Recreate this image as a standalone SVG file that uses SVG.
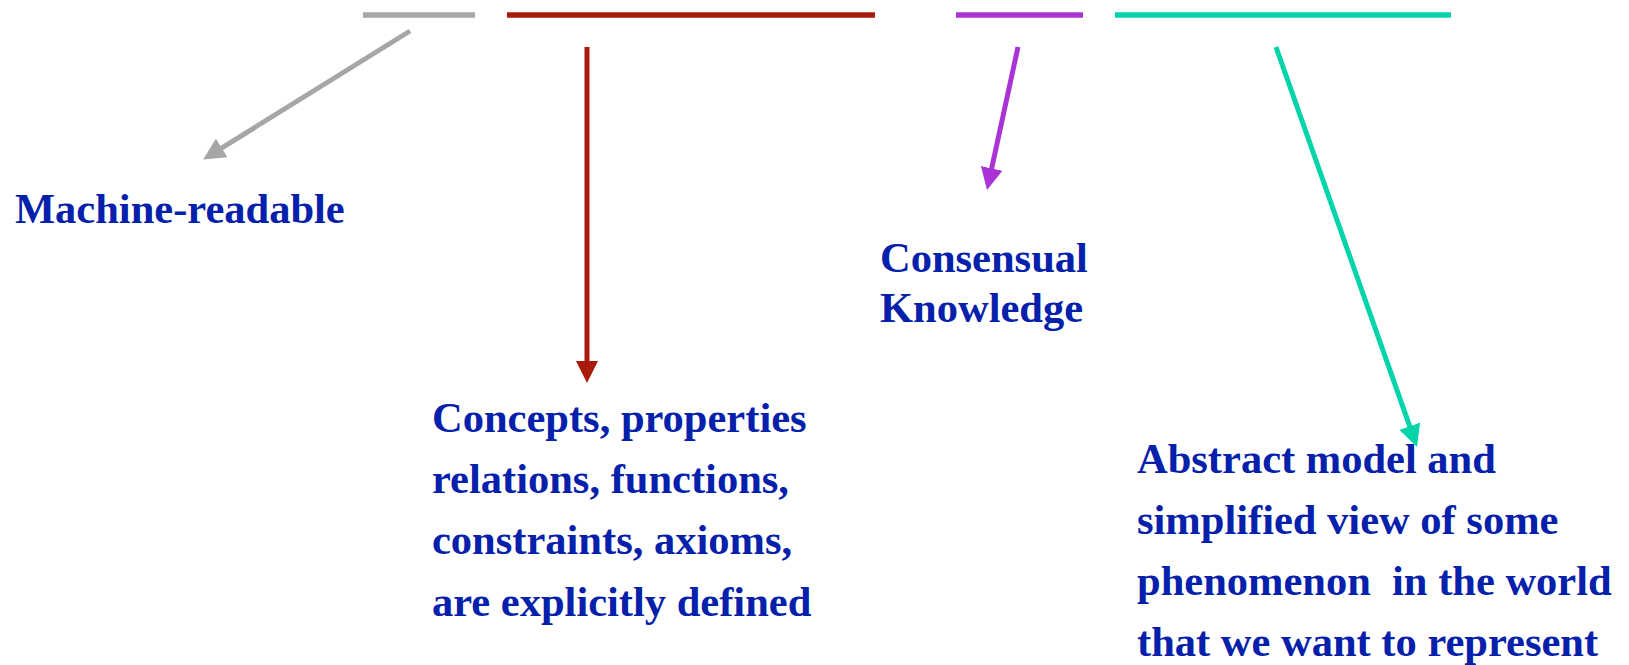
<svg xmlns="http://www.w3.org/2000/svg" width="1629" height="665" viewBox="0 0 1629 665">
<style>
.lbl{font-family:"Liberation Serif","Times New Roman",serif;font-weight:bold;font-size:42.5px;fill:#0520AA}
.bar{stroke-width:5.5;fill:none}
.con{stroke-width:5;fill:none}
</style>
<defs>
<marker id="hg" markerUnits="userSpaceOnUse" markerWidth="22" markerHeight="22" refX="6" refY="11" orient="auto"><path d="M0,0 L22,11 L0,22 z" fill="#A6A6A6"/></marker>
<marker id="hr" markerUnits="userSpaceOnUse" markerWidth="22" markerHeight="22" refX="6" refY="11" orient="auto"><path d="M0,0 L22,11 L0,22 z" fill="#AA1A0A"/></marker>
<marker id="hp" markerUnits="userSpaceOnUse" markerWidth="22" markerHeight="22" refX="6" refY="11" orient="auto"><path d="M0,0 L22,11 L0,22 z" fill="#AA33D6"/></marker>
<marker id="ht" markerUnits="userSpaceOnUse" markerWidth="22" markerHeight="22" refX="6" refY="11" orient="auto"><path d="M0,0 L22,11 L0,22 z" fill="#05D4AA"/></marker>
</defs>
<g id="bars">
<line class="bar" x1="363" y1="15" x2="475" y2="15" stroke="#A6A6A6"/>
<line class="bar" x1="507" y1="15" x2="875" y2="15" stroke="#AA1A0A"/>
<line class="bar" x1="956" y1="15" x2="1083" y2="15" stroke="#AA33D6"/>
<line class="bar" x1="1115" y1="15" x2="1451" y2="15" stroke="#05D4AA"/>
</g>
<g id="connectors">
<line class="con" x1="410" y1="31" x2="216.7" y2="151.1" stroke="#A6A6A6" marker-end="url(#hg)"/>
<line class="con" x1="587" y1="47" x2="587" y2="367" stroke="#AA1A0A" marker-end="url(#hr)"/>
<line class="con" x1="1018" y1="47" x2="990.4" y2="174.3" stroke="#AA33D6" marker-end="url(#hp)"/>
<line class="con" x1="1276" y1="47" x2="1411.7" y2="431.9" stroke="#05D4AA" marker-end="url(#ht)"/>
</g>
<g id="machine-readable">
<text class="lbl" x="15" y="223">Machine-readable</text>
</g>
<g id="concepts">
<text class="lbl" x="432" y="432">Concepts, properties</text>
<text class="lbl" x="432" y="493">relations, functions,</text>
<text class="lbl" x="432" y="554">constraints, axioms,</text>
<text class="lbl" x="432" y="616">are explicitly defined</text>
</g>
<g id="consensual">
<text class="lbl" x="880" y="272">Consensual</text>
<text class="lbl" x="880" y="322">Knowledge</text>
</g>
<g id="abstract">
<text class="lbl" x="1137" y="473">Abstract model and</text>
<text class="lbl" x="1137" y="534" xml:space="preserve">simplified view of some</text>
<text class="lbl" x="1137" y="595" xml:space="preserve">phenomenon  in the world</text>
<text class="lbl" x="1137" y="656">that we want to represent</text>
</g>
</svg>
